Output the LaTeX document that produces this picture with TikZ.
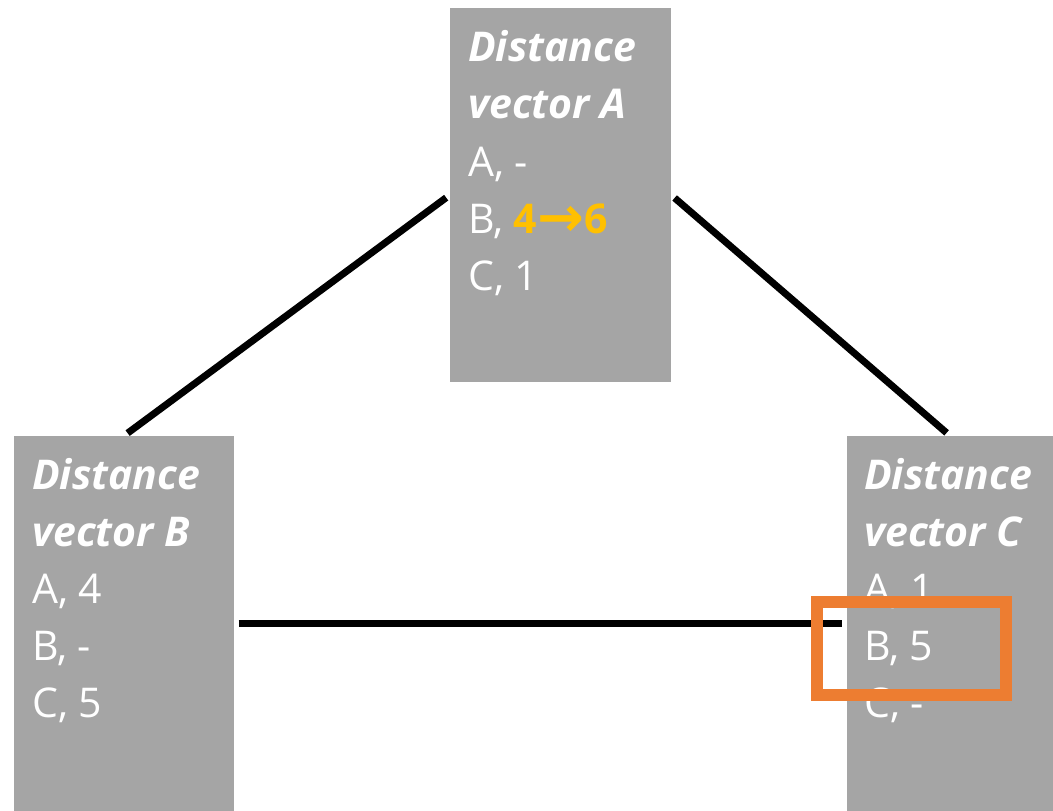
\documentclass[tikz,border=0pt]{standalone}
\usepackage{fontspec}
\setmainfont{Open Sans}
\newfontfamily\symfont{DejaVu Sans}
\definecolor{boxgray}{HTML}{A5A5A5}
\definecolor{hlorange}{HTML}{ED7D31}
\definecolor{gold}{HTML}{FFC000}
\newcommand{\bigarrow}{\raisebox{-3pt}{\symfont\bfseries\fontsize{56}{57}\selectfont →}}
\begin{document}
\begin{tikzpicture}[x=1pt,y=-1pt,
  table/.style={fill=boxgray, draw=none, inner sep=0pt},
  head/.style={anchor=base west, inner sep=0pt, text=white,
    font=\fontsize{41}{57}\selectfont\bfseries\itshape},
  row/.style={anchor=base west, inner sep=0pt, text=white,
    font=\fontsize{41}{57}\selectfont},
  link/.style={line width=7pt, shorten <=4.5pt, shorten >=4.5pt},
  highlight/.style={draw=hlorange, line width=12pt, fill=none, inner sep=0pt}]
\useasboundingbox (0,0) rectangle (1053,811);

% distance vector tables
\node[table, minimum width=221pt, minimum height=374pt] (A) at (560.5,195) {};
\node[table, minimum width=220pt, minimum height=375pt] (B) at (124,623.5) {};
\node[table, minimum width=206pt, minimum height=375pt] (C) at (950,623.5) {};

% links between the routers
\draw[link] (A.west) -- (B.north);
\draw[link] (A.east) -- (C.north);
\draw[link] (B.east) -- (C.west);

% table of A
\node[head] (A1) at (468,61) {Distance};
\node[head] (A2) at (468,118) {vector A};
\node[row]  (A3) at (468,176) {A, -};
\node[row]  (A4) at (468,233) {B, \textcolor{gold}{\bfseries 4\bigarrow 6}};
\node[row]  (A5) at (468,290) {C, 1};

% table of B
\node[head] (B1) at (32,489) {Distance};
\node[head] (B2) at (32,546) {vector B};
\node[row]  (B3) at (32,603) {A, 4};
\node[row]  (B4) at (32,660) {B, -};
\node[row]  (B5) at (32,717) {C, 5};

% table of C
\node[head] (C1) at (864,489) {Distance};
\node[head] (C2) at (864,546) {vector C};
\node[row]  (C3) at (864,603) {A, 1};
\node[row]  (C4) at (864,660) {B, 5};
\node[row]  (C5) at (864,717) {C, -};

% highlighted entry
\node[highlight, minimum width=189pt, minimum height=93pt] (hl) at (911.5,648.5) {};
\end{tikzpicture}
\end{document}
